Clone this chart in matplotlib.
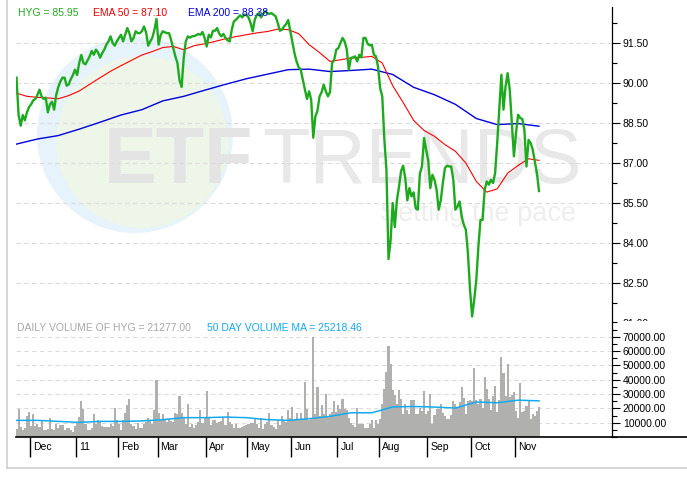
import numpy as np
import pandas as pd
import matplotlib
matplotlib.use("Agg")
import matplotlib.pyplot as plt
from matplotlib.patches import Circle, Rectangle
from matplotlib.lines import Line2D
from matplotlib.ticker import MultipleLocator, FormatStrFormatter

plt.rcParams['font.family'] = ['Liberation Sans', 'DejaVu Sans']

# trading holidays in the window (NYSE)
holidays = ["2010-11-25", "2010-12-24", "2011-01-17", "2011-02-21",
            "2011-04-22", "2011-05-30", "2011-07-04", "2011-09-05"]

# HYG daily close, one value per session from 2010-11-19
close = [
    90.2, 88.8, 88.4, 88.8, 88.6, 88.9, 89.1, 89.2, 89.35, 89.4,
    89.55, 89.75, 89.5, 89.4, 89.45, 88.9, 89.2, 89.3, 89.0, 89.55,
    89.85, 90.06, 90.2, 90.2, 89.9, 89.95, 90.15, 90.3, 90.5, 90.3,
    90.75, 91.05, 90.75, 90.7, 90.85, 91.0, 91.2, 91.06, 91.25, 91.15,
    90.95, 91.12, 91.25, 91.44, 91.56, 91.75, 91.5, 91.4, 91.56, 91.69,
    91.81, 91.56, 91.81, 92.06, 91.87, 91.56, 91.69, 91.94, 91.87, 91.87,
    91.94, 92.12, 91.9, 91.4, 91.56, 91.7, 92.0, 92.4, 91.44, 91.8,
    91.94, 91.9, 91.87, 91.87, 91.6, 91.31, 91.0, 90.75, 90.1, 89.85,
    90.94, 91.56, 91.75, 91.7, 91.75, 91.76, 91.79, 91.84, 91.81, 91.91,
    91.69, 91.37, 91.81, 91.71, 91.96, 91.96, 92.06, 91.85, 91.75, 91.84,
    91.69, 91.6, 91.56, 92.0, 92.31, 92.37, 92.46, 92.54, 92.46, 92.56,
    92.56, 92.46, 92.25, 91.94, 92.37, 92.56, 92.62, 92.46, 92.59, 92.69,
    92.62, 92.59, 92.62, 92.56, 92.5, 92.25, 91.96, 92.0, 92.12, 92.21,
    92.36, 91.94, 91.5, 91.12, 90.81, 90.59, 90.5, 90.12, 89.75, 89.4,
    89.69, 89.37, 87.95, 88.75, 88.96, 89.5, 89.66, 89.94, 89.69, 89.5,
    89.66, 90.75, 90.87, 91.25, 91.31, 91.5, 91.69, 91.56, 91.27, 90.5,
    90.94, 90.96, 91.0, 90.81, 91.06, 90.96, 91.69, 91.69, 91.47, 91.41,
    91.44, 91.06, 91.0, 90.6, 89.81, 89.5, 87.9, 86.75, 83.4, 84.1,
    85.5, 84.6, 85.6, 86.1, 86.7, 86.9, 86.44, 85.6, 86.06, 85.75,
    85.9, 85.3, 85.25, 86.6, 86.87, 87.94, 87.5, 87.1, 86.06, 86.56,
    86.37, 86.0, 85.25, 85.6, 86.25, 86.81, 86.9, 86.87, 86.87, 86.37,
    85.25, 85.37, 85.56, 85.0, 84.69, 84.5, 83.62, 82.25, 81.25, 81.87,
    82.62, 83.87, 84.87, 84.87, 86.0, 86.31, 86.19, 86.37, 86.25, 86.62,
    87.75, 89.0, 90.31, 89.0, 89.87, 90.37, 89.75, 88.5, 87.25, 88.12,
    88.81, 88.69, 88.65, 88.25, 86.87, 87.87, 87.75, 87.5, 87.06, 86.62,
    85.95,
]

volume = [
    5800, 19300, 7000, 4600, 6300, 14400, 17200, 7400, 15800, 7400,
    9300, 7000, 12000, 4600, 4600, 5800, 13500, 5800, 5100, 9300,
    6300, 8100, 8100, 5100, 6300, 6300, 5100, 3500, 7400, 9700,
    13900, 24800, 19700, 9300, 5100, 4600, 6300, 15800, 9300, 11600,
    10900, 7400, 7000, 7000, 7000, 9300, 7400, 20000, 11600, 9300,
    5100, 12000, 16500, 22000, 26200, 9300, 7400, 5800, 10000, 6300,
    6300, 9300, 10400, 13200, 10900, 8800, 18600, 40100, 16700, 11600,
    15800, 12000, 10400, 12800, 11100, 10400, 16700, 16200, 28300, 16700,
    13500, 9300, 22700, 7000, 9300, 6000, 8100, 10400, 18600, 9700,
    13200, 31800, 13500, 8100, 11600, 11600, 9700, 10400, 10900, 13900,
    8100, 17400, 10400, 9300, 6500, 9300, 6300, 6300, 7000, 7400,
    8600, 9300, 9700, 9700, 12300, 9300, 6300, 13500, 5800, 9000,
    10400, 16500, 8100, 7000, 5300, 11600, 8100, 14800, 12000, 10200,
    18600, 13000, 20600, 11600, 16500, 12800, 16500, 12800, 38300, 19700,
    11600, 13500, 70000, 16000, 34600, 14400, 22000, 16200, 29700, 14600,
    16200, 17200, 24800, 17400, 22000, 19300, 26200, 19300, 18600, 13500,
    9700, 8600, 7000, 20400, 9300, 8800, 9300, 6500, 6300, 9300,
    11600, 6500, 11600, 8800, 12800, 23200, 33600, 45500, 63800, 50600,
    32900, 29000, 22700, 32500, 26700, 16200, 23200, 18600, 16200, 25500,
    25500, 16200, 16200, 20400, 18100, 31800, 15800, 17900, 29700, 8800,
    15100, 19300, 19300, 22700, 16700, 14800, 12300, 12300, 15100, 25000,
    22700, 20900, 24400, 34800, 27400, 16200, 25000, 25500, 24800, 48000,
    25500, 22700, 26200, 20200, 41800, 33200, 26700, 19000, 28500, 35300,
    17400, 25500, 55700, 44500, 28300, 50600, 27800, 29000, 31300, 18100,
    13500, 37600, 17400, 18100, 21300, 25000, 12300, 15800, 14400, 17900,
    21277,
]

# averages, every 5 / 10 sessions
ema50_step = 5
ema50 = [
    89.62, 89.5, 89.46, 89.44, 89.41, 89.53, 89.7, 89.95, 90.2, 90.44,
    90.65, 90.85, 91.05, 91.18, 91.33, 91.37, 91.25, 91.4, 91.47, 91.56,
    91.66, 91.74, 91.81, 91.88, 91.93, 92.02, 92.0, 91.85, 91.44, 91.14,
    90.81, 90.87, 90.94, 90.96, 91.0, 90.75, 89.9, 89.27, 88.6, 88.22,
    88.0, 87.69, 87.44, 87.0, 86.31, 85.91, 86.03, 86.62, 86.91, 87.16,
    87.10,
]
ema200_step = 10
ema200 = [
    87.71, 87.9, 88.03, 88.27, 88.53, 88.8, 89.0, 89.33, 89.5, 89.73,
    89.95, 90.16, 90.33, 90.5, 90.52, 90.43, 90.47, 90.52, 90.32, 89.84,
    89.56, 89.2, 88.67, 88.44, 88.48, 88.38,
]
volma_step = 10
vol_ma = [
    11600, 11600, 10900, 10200, 10900, 10900, 11200, 12100, 13500, 13500,
    13900, 13500, 12100, 11600, 12800, 14400, 16900, 16900, 21000, 21300,
    20900, 20200, 24400, 23900, 25700, 25218,
]

labels_top = [("HYG = 85.95", "#22aa22"), ("EMA 50 = 87.10", "#ee0000"),
              ("EMA 200 = 88.38", "#0000dd")]
labels_vol = [("DAILY VOLUME OF HYG = 21277.00", "#a8a8a8"),
              ("50 DAY VOLUME MA = 25218.46", "#14aaee")]

n = len(close)
dates = pd.bdate_range("2010-11-19", periods=n, freq="C", holidays=holidays)
x = np.arange(n)

W, H = 687, 479
X0PX, PXDAY = 16.5, 2.09   # pixel of first session, pixels per session

def fx(px):
    return px / W

def fy(py):
    return 1 - py / H

fig = plt.figure(figsize=(W / 100, H / 100), dpi=100)
fig.patch.set_facecolor("white")

xlim = ((16 - X0PX) / PXDAY, (612 - X0PX) / PXDAY)

# ---- price panel
ax1 = fig.add_axes([fx(16), fy(330), fx(612) - fx(16), (330 - 7) / H])
ax1.set_xlim(xlim)
ax1.set_ylim(80.74, 92.85)
ax1.set_facecolor("none")

# watermark logo
ax1.add_patch(Circle((1.35, (H - 135) / 100), 0.98, transform=fig.dpi_scale_trans,
                     facecolor="#e6f3fb", edgecolor="none", zorder=0))
ax1.add_patch(Circle((1.42, (H - 142) / 100), 0.86, transform=fig.dpi_scale_trans,
                     facecolor="#edf6e8", edgecolor="none", zorder=0.1))
ax1.text(fx(104), fy(183), "ETF", transform=fig.transFigure, fontsize=57,
         fontweight="bold", color="#e4e4e4", va="baseline", ha="left", zorder=0.2)
ax1.text(fx(262), fy(183), "TRENDS", transform=fig.transFigure, fontsize=56,
         color="#e8e8e8", va="baseline", ha="left", zorder=0.2)
ax1.text(fx(380), fy(221), "Setting the pace", transform=fig.transFigure,
         fontsize=19.5, color="#eeeeee", va="baseline", ha="left", zorder=0.2)

ax1.plot(np.arange(0, n, ema200_step)[:len(ema200)], ema200, color="#0000dd", lw=1.0, zorder=2)
ax1.plot(np.arange(0, n, ema50_step)[:len(ema50)], ema50, color="#ff0000", lw=0.8, zorder=3)
ax1.plot(x, close, color="#1eaa1e", lw=1.7, zorder=4)

ax1.yaxis.set_major_locator(MultipleLocator(1.5))
ax1.yaxis.set_minor_locator(MultipleLocator(0.75))
ax1.yaxis.set_major_formatter(FormatStrFormatter("%.2f"))
ax1.yaxis.tick_right()
ax1.tick_params(axis="y", which="major", length=5.8, width=0.8, labelsize=7.5, pad=2)
ax1.tick_params(axis="y", which="minor", length=3.6, width=0.8)
ax1.tick_params(axis="x", bottom=False, labelbottom=False)
ax1.set_axisbelow(True)
ax1.yaxis.grid(True, which="major", color="#dcdcdc", linestyle=(0, (4, 3)), lw=0.8)
for s in ("left", "top", "bottom"):
    ax1.spines[s].set_visible(False)
ax1.spines["right"].set_linewidth(0.9)

# white strip that hides the cut price label under the volume panel
fig.patches.append(Rectangle((fx(613), fy(337)), fx(687) - fx(613), (337 - 321) / H,
                             transform=fig.transFigure, facecolor="white",
                             edgecolor="none", zorder=2))

# ---- volume panel
ax2 = fig.add_axes([fx(16), fy(437), fx(612) - fx(16), (437 - 321) / H], zorder=3)
ax2.set_facecolor("white")
ax2.set_xlim(xlim)
ax2.set_ylim(0, 80950)
ax2.bar(x, volume, width=1.0, color="#b0b1af", linewidth=0, zorder=2)
ax2.plot(np.arange(0, n, volma_step)[:len(vol_ma)], vol_ma, color="#14aaee", lw=1.1, zorder=3)

ax2.set_yticks(np.arange(10000, 80000, 10000))
ax2.yaxis.set_minor_locator(MultipleLocator(5000))
ax2.yaxis.set_major_formatter(FormatStrFormatter("%.2f"))
ax2.yaxis.tick_right()
ax2.tick_params(axis="y", which="major", length=5.8, width=0.8, labelsize=7.5, pad=2)
ax2.tick_params(axis="y", which="minor", length=3.6, width=0.8)
ax2.set_axisbelow(True)
ax2.yaxis.grid(True, which="major", color="#dcdcdc", linestyle=(0, (4, 3)), lw=0.8)
for s in ("left", "top"):
    ax2.spines[s].set_visible(False)
ax2.spines["right"].set_linewidth(0.9)
ax2.spines["bottom"].set_linewidth(1.2)

# month boundaries
bounds, mlabels = [], []
for i in range(1, n):
    if dates[i].month != dates[i - 1].month:
        bounds.append(i - 0.5)
        d = dates[i]
        mlabels.append(d.strftime("%y") if d.month == 1 else d.strftime("%b"))
ax2.set_xticks(bounds)
ax2.tick_params(axis="x", length=14.4, width=1.0, direction="out", labelbottom=False)
for b, lab in zip(bounds, mlabels):
    ax2.annotate(lab, xy=(b, 0), xycoords=("data", "axes fraction"),
                 xytext=(3, -10), textcoords="offset pixels",
                 ha="left", va="center", fontsize=7.5, annotation_clip=False)

# axis line runs on to the right edge, plus the light outer frame
fig.add_artist(Line2D([fx(612), 1.0], [fy(437), fy(437)], color="black", lw=1.2))
fig.add_artist(Line2D([fx(7), fx(7)], [1.0, fy(468)], color="#cfcfcf", lw=1.2))
fig.add_artist(Line2D([fx(7), 1.0], [fy(468), fy(468)], color="#cfcfcf", lw=1.2))

# legend texts
xpos = [18, 93, 188]
for (s, c), px in zip(labels_top, xpos):
    fig.text(fx(px), fy(13), s, color=c, fontsize=7.5, va="center", ha="left")
xpos = [17, 207]
for (s, c), px in zip(labels_vol, xpos):
    fig.text(fx(px), fy(328), s, color=c, fontsize=7.5, va="center", ha="left", zorder=5)

fig.savefig("out.png", dpi=100)
